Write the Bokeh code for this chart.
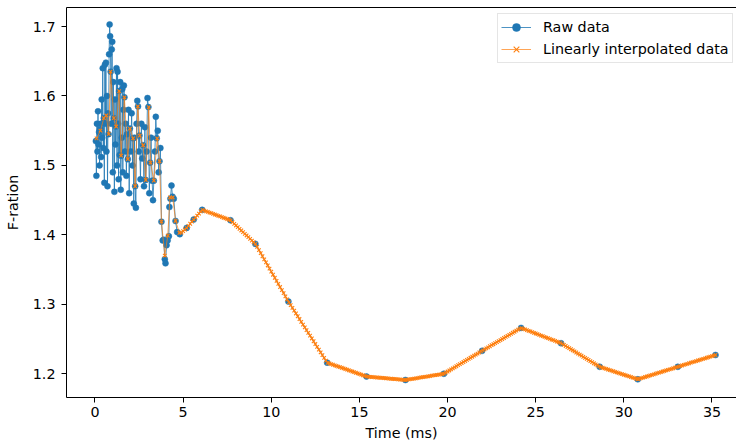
from bokeh.plotting import figure
from bokeh.models import Range1d, FixedTicker, LinearAxis, Legend, LegendItem
from bokeh.embed import file_html
from bokeh.resources import INLINE

# ---- Raw data (time in ms, F-ratio) ----
t_raw = [0.05, 0.08, 0.11, 0.14, 0.17, 0.20, 0.23, 0.26, 0.29, 0.32, 0.35, 0.38, 0.41, 0.44,
         0.47, 0.50, 0.53, 0.56, 0.59, 0.62, 0.65, 0.68, 0.71, 0.74, 0.77, 0.80, 0.83, 0.86,
         0.89, 0.92, 0.95, 0.98, 1.01, 1.04, 1.07, 1.10, 1.13, 1.16, 1.19, 1.22, 1.25, 1.28,
         1.31, 1.34, 1.37, 1.40, 1.43, 1.46, 1.49, 1.52, 1.55, 1.58, 1.61, 1.64, 1.67, 1.70,
         1.74, 1.78, 1.82, 1.86, 1.90, 1.94, 1.98, 2.03, 2.08, 2.13, 2.16, 2.20, 2.24, 2.28,
         2.32, 2.36, 2.40, 2.44, 2.48, 2.52, 2.58, 2.63, 2.68, 2.73, 2.78, 2.83, 2.88, 2.93,
         2.98, 3.03, 3.08, 3.13, 3.18, 3.24, 3.29, 3.34, 3.40, 3.45, 3.50, 3.56, 3.61, 3.66,
         3.71, 3.77, 3.84, 3.90, 3.96, 4.00, 4.06, 4.12, 4.19, 4.22, 4.28, 4.34, 4.40, 4.47,
         4.57, 4.66, 4.81, 5.20, 5.60, 6.08, 7.69, 9.10, 10.97, 13.17, 15.40, 17.61, 19.79,
         21.96, 24.17, 26.44, 28.63, 30.79, 33.06, 35.20]
f_raw = [1.535, 1.485, 1.560, 1.520, 1.578, 1.530, 1.548, 1.500, 1.552, 1.560, 1.512, 1.595, 1.540, 1.640,
         1.525, 1.568, 1.475, 1.645, 1.560, 1.648, 1.520, 1.600, 1.470, 1.575, 1.545, 1.660, 1.703, 1.686,
         1.635, 1.560, 1.667, 1.678, 1.490, 1.620, 1.568, 1.462, 1.595, 1.530, 1.556, 1.640, 1.500, 1.635,
         1.560, 1.480, 1.607, 1.515, 1.620, 1.465, 1.514, 1.540, 1.610, 1.490, 1.580, 1.615, 1.598, 1.520,
         1.560, 1.485, 1.545, 1.509, 1.580, 1.460, 1.553, 1.520, 1.575, 1.500, 1.539, 1.445, 1.540, 1.470,
         1.439, 1.560, 1.593, 1.585, 1.520, 1.543, 1.480, 1.560, 1.510, 1.529, 1.470, 1.555, 1.479, 1.520,
         1.597, 1.584, 1.460, 1.504, 1.540, 1.478, 1.450, 1.478, 1.520, 1.570, 1.539, 1.550, 1.490, 1.506,
         1.525, 1.419, 1.392, 1.393, 1.365, 1.359, 1.385, 1.392, 1.398, 1.440, 1.452, 1.471, 1.455, 1.452,
         1.420, 1.404, 1.401, 1.410, 1.422, 1.436, 1.421, 1.387, 1.304, 1.216, 1.196, 1.191, 1.200,
         1.233, 1.266, 1.244, 1.210, 1.192, 1.210, 1.227]

# ---- Linearly interpolated data ----
t_int_early = [0.09, 0.31, 0.50, 0.64, 0.78, 0.88, 1.07, 1.20, 1.37, 1.48, 1.67, 1.86, 1.98, 2.16, 2.28,
               2.43, 2.54, 2.73, 2.88, 3.05, 3.15, 3.34, 3.53, 3.66, 3.77, 3.96, 4.13, 4.25, 4.41, 4.57,
               4.79]
f_int_early = [1.539, 1.550, 1.568, 1.572, 1.545, 1.635, 1.568, 1.556, 1.607, 1.514, 1.598, 1.509, 1.553, 1.539, 1.470,
               1.585, 1.543, 1.529, 1.479, 1.584, 1.504, 1.478, 1.539, 1.506, 1.419, 1.370, 1.399, 1.454, 1.454, 1.420,
               1.403]
t_int_late = [4.9, 5.0, 5.1, 5.2, 5.3, 5.4, 5.5, 5.6, 5.7, 5.8, 5.9, 6.0, 6.1, 6.2, 6.3, 6.4, 6.5, 6.6, 6.7, 6.8,
              6.9, 7.0, 7.1, 7.2, 7.3, 7.4, 7.5, 7.6, 7.7, 7.8, 7.9, 8.0, 8.1, 8.2, 8.3, 8.4, 8.5, 8.6, 8.7, 8.8,
              8.9, 9.0, 9.1, 9.2, 9.3, 9.4, 9.5, 9.6, 9.7, 9.8, 9.9, 10.0, 10.1, 10.2, 10.3, 10.4, 10.5, 10.6,
              10.7, 10.8, 10.9, 11.0, 11.1, 11.2, 11.3, 11.4, 11.5, 11.6, 11.7, 11.8, 11.9, 12.0, 12.1, 12.2,
              12.3, 12.4, 12.5, 12.6, 12.7, 12.8, 12.9, 13.0, 13.1, 13.2, 13.3, 13.4, 13.5, 13.6, 13.7, 13.8,
              13.9, 14.0, 14.1, 14.2, 14.3, 14.4, 14.5, 14.6, 14.7, 14.8, 14.9, 15.0, 15.1, 15.2, 15.3, 15.4,
              15.5, 15.6, 15.7, 15.8, 15.9, 16.0, 16.1, 16.2, 16.3, 16.4, 16.5, 16.6, 16.7, 16.8, 16.9, 17.0,
              17.1, 17.2, 17.3, 17.4, 17.5, 17.6, 17.7, 17.8, 17.9, 18.0, 18.1, 18.2, 18.3, 18.4, 18.5, 18.6,
              18.7, 18.8, 18.9, 19.0, 19.1, 19.2, 19.3, 19.4, 19.5, 19.6, 19.7, 19.8, 19.9, 20.0, 20.1, 20.2,
              20.3, 20.4, 20.5, 20.6, 20.7, 20.8, 20.9, 21.0, 21.1, 21.2, 21.3, 21.4, 21.5, 21.6, 21.7, 21.8,
              21.9, 22.0, 22.1, 22.2, 22.3, 22.4, 22.5, 22.6, 22.7, 22.8, 22.9, 23.0, 23.1, 23.2, 23.3, 23.4,
              23.5, 23.6, 23.7, 23.8, 23.9, 24.0, 24.1, 24.2, 24.3, 24.4, 24.5, 24.6, 24.7, 24.8, 24.9, 25.0,
              25.1, 25.2, 25.3, 25.4, 25.5, 25.6, 25.7, 25.8, 25.9, 26.0, 26.1, 26.2, 26.3, 26.4, 26.5, 26.6,
              26.7, 26.8, 26.9, 27.0, 27.1, 27.2, 27.3, 27.4, 27.5, 27.6, 27.7, 27.8, 27.9, 28.0, 28.1, 28.2,
              28.3, 28.4, 28.5, 28.6, 28.7, 28.8, 28.9, 29.0, 29.1, 29.2, 29.3, 29.4, 29.5, 29.6, 29.7, 29.8,
              29.9, 30.0, 30.1, 30.2, 30.3, 30.4, 30.5, 30.6, 30.7, 30.8, 30.9, 31.0, 31.1, 31.2, 31.3, 31.4,
              31.5, 31.6, 31.7, 31.8, 31.9, 32.0, 32.1, 32.2, 32.3, 32.4, 32.5, 32.6, 32.7, 32.8, 32.9, 33.0,
              33.1, 33.2, 33.3, 33.4, 33.5, 33.6, 33.7, 33.8, 33.9, 34.0, 34.1, 34.2, 34.3, 34.4, 34.5, 34.6,
              34.7, 34.8, 34.9, 35.0, 35.1, 35.2]
f_int_late = [1.4031, 1.4054, 1.4077, 1.4100, 1.4130, 1.4160, 1.4190, 1.4220, 1.4249, 1.4278, 1.4307, 1.4337,
              1.4358, 1.4349, 1.4339, 1.4330, 1.4321, 1.4312, 1.4302, 1.4293, 1.4284, 1.4274, 1.4265, 1.4256,
              1.4246, 1.4237, 1.4228, 1.4218, 1.4208, 1.4183, 1.4159, 1.4135, 1.4111, 1.4087, 1.4063, 1.4039,
              1.4015, 1.3991, 1.3967, 1.3942, 1.3918, 1.3894, 1.3870, 1.3826, 1.3781, 1.3737, 1.3692, 1.3648,
              1.3604, 1.3559, 1.3515, 1.3470, 1.3426, 1.3382, 1.3337, 1.3293, 1.3249, 1.3204, 1.3160, 1.3115,
              1.3071, 1.3028, 1.2988, 1.2948, 1.2908, 1.2868, 1.2828, 1.2788, 1.2748, 1.2708, 1.2668, 1.2628,
              1.2588, 1.2548, 1.2508, 1.2468, 1.2428, 1.2388, 1.2348, 1.2308, 1.2268, 1.2228, 1.2188, 1.2157,
              1.2148, 1.2139, 1.2130, 1.2121, 1.2112, 1.2103, 1.2095, 1.2086, 1.2077, 1.2068, 1.2059, 1.2050,
              1.2041, 1.2032, 1.2023, 1.2014, 1.2005, 1.1996, 1.1987, 1.1978, 1.1969, 1.1960, 1.1958, 1.1955,
              1.1953, 1.1951, 1.1949, 1.1946, 1.1944, 1.1942, 1.1940, 1.1937, 1.1935, 1.1933, 1.1931, 1.1928,
              1.1926, 1.1924, 1.1922, 1.1919, 1.1917, 1.1915, 1.1912, 1.1910, 1.1914, 1.1918, 1.1922, 1.1926,
              1.1930, 1.1934, 1.1938, 1.1943, 1.1947, 1.1951, 1.1955, 1.1959, 1.1963, 1.1967, 1.1972, 1.1976,
              1.1980, 1.1984, 1.1988, 1.1992, 1.1996, 1.2002, 1.2017, 1.2032, 1.2047, 1.2062, 1.2078, 1.2093,
              1.2108, 1.2123, 1.2138, 1.2154, 1.2169, 1.2184, 1.2199, 1.2214, 1.2230, 1.2245, 1.2260, 1.2275,
              1.2290, 1.2306, 1.2321, 1.2336, 1.2351, 1.2366, 1.2381, 1.2396, 1.2411, 1.2425, 1.2440, 1.2455,
              1.2470, 1.2485, 1.2500, 1.2515, 1.2530, 1.2545, 1.2560, 1.2575, 1.2590, 1.2605, 1.2620, 1.2635,
              1.2650, 1.2657, 1.2647, 1.2638, 1.2628, 1.2618, 1.2609, 1.2599, 1.2589, 1.2580, 1.2570, 1.2560,
              1.2550, 1.2541, 1.2531, 1.2521, 1.2512, 1.2502, 1.2492, 1.2483, 1.2473, 1.2463, 1.2454, 1.2444,
              1.2431, 1.2415, 1.2400, 1.2384, 1.2369, 1.2353, 1.2338, 1.2322, 1.2306, 1.2291, 1.2275, 1.2260,
              1.2244, 1.2229, 1.2213, 1.2198, 1.2182, 1.2167, 1.2151, 1.2136, 1.2120, 1.2105, 1.2094, 1.2086,
              1.2078, 1.2069, 1.2061, 1.2053, 1.2044, 1.2036, 1.2028, 1.2019, 1.2011, 1.2003, 1.1994, 1.1986,
              1.1978, 1.1969, 1.1961, 1.1953, 1.1944, 1.1936, 1.1928, 1.1921, 1.1929, 1.1937, 1.1945, 1.1953,
              1.1960, 1.1968, 1.1976, 1.1984, 1.1992, 1.2000, 1.2008, 1.2016, 1.2024, 1.2032, 1.2040, 1.2048,
              1.2056, 1.2064, 1.2071, 1.2079, 1.2087, 1.2095, 1.2103, 1.2111, 1.2119, 1.2127, 1.2135, 1.2143,
              1.2151, 1.2159, 1.2167, 1.2175, 1.2183, 1.2191, 1.2198, 1.2206, 1.2214, 1.2222, 1.2230, 1.2238,
              1.2246, 1.2254, 1.2262, 1.2270]

t_int = t_int_early + t_int_late
f_int = f_int_early + f_int_late

x_ticks = [0, 5, 10, 15, 20, 25, 30, 35]
y_ticks = [1.2, 1.3, 1.4, 1.5, 1.6, 1.7]

FONT = "DejaVu Sans"
FS = "14.3px"

p = figure(width=736, height=446, output_backend="svg", toolbar_location=None,
           x_range=Range1d(-1.616, 36.39), y_range=Range1d(1.1658, 1.7274),
           min_border_left=66, min_border_right=0, min_border_top=7, min_border_bottom=49)
p.background_fill_color = "white"
p.border_fill_color = "white"
p.outline_line_color = None
p.grid.visible = False

for ax in (p.xaxis[0], p.yaxis[0]):
    ax.axis_line_color = "black"
    ax.axis_line_width = 1
    ax.major_tick_line_color = "black"
    ax.major_tick_out = 5
    ax.major_tick_in = 0
    ax.minor_tick_line_color = None
    ax.major_label_text_font = FONT
    ax.major_label_text_font_size = FS
    ax.major_label_text_color = "black"
    ax.axis_label_text_font = FONT
    ax.axis_label_text_font_size = FS
    ax.axis_label_text_font_style = "normal"
    ax.axis_label_text_color = "black"

p.xaxis[0].ticker = FixedTicker(ticks=x_ticks)
p.yaxis[0].ticker = FixedTicker(ticks=y_ticks)
p.xaxis[0].axis_label = "Time (ms)"
p.yaxis[0].axis_label = "F-ration"
p.xaxis[0].major_label_standoff = 4
p.xaxis[0].axis_label_standoff = 5
p.yaxis[0].major_label_standoff = 6
p.yaxis[0].axis_label_standoff = 9

top_axis = LinearAxis(ticker=FixedTicker(ticks=[]), axis_line_color="black", axis_line_width=1,
                      major_tick_line_color=None, minor_tick_line_color=None,
                      major_label_text_font_size="0px")
p.add_layout(top_axis, "above")

BLUE = "#1f77b4"
ORANGE = "#ff7f0e"

r1 = p.line(t_raw, f_raw, line_color=BLUE, line_width=0.8)
r2 = p.scatter(t_raw, f_raw, size=6, fill_color=BLUE, line_color=BLUE, line_width=0.5)
r3 = p.line(t_int, f_int, line_color=ORANGE, line_width=1.0, line_alpha=0.7)
r4 = p.scatter(t_int, f_int, marker="x", size=5, line_color=ORANGE, line_width=1.1)

legend = Legend(items=[LegendItem(label="Raw data", renderers=[r1, r2]),
                       LegendItem(label="Linearly interpolated data", renderers=[r3, r4])],
                location=(431, 334))
legend.label_text_font = FONT
legend.label_text_font_size = FS
legend.label_text_color = "black"
legend.glyph_width = 30
legend.glyph_height = 20
legend.label_height = 20
legend.label_standoff = 12
legend.spacing = 2
legend.padding = 3
legend.margin = 0
legend.border_line_color = "#cccccc"
legend.border_line_width = 1
legend.background_fill_alpha = 0.8
p.add_layout(legend, "center")

open("out.html", "w").write(file_html(p, INLINE))
